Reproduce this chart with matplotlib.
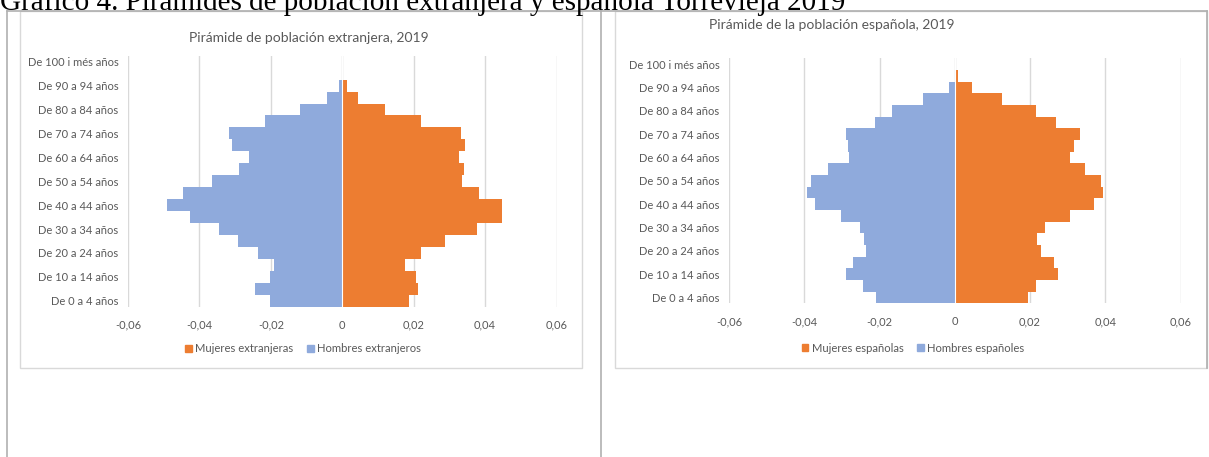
import matplotlib
matplotlib.use("Agg")
import matplotlib.pyplot as plt
from matplotlib.patches import Patch, Rectangle
from matplotlib.lines import Line2D

## age groups, bottom (0-4) to top (100+)
grupos = ["De 0 a 4 años", "De 5 a 9 años", "De 10 a 14 años", "De 15 a 19 años",
          "De 20 a 24 años", "De 25 a 29 años", "De 30 a 34 años", "De 35 a 39 años",
          "De 40 a 44 años", "De 45 a 49 años", "De 50 a 54 años", "De 55 a 59 años",
          "De 60 a 64 años", "De 65 a 69 años", "De 70 a 74 años", "De 75 a 79 años",
          "De 80 a 84 años", "De 85 a 89 años", "De 90 a 94 años", "De 95 a 99 años",
          "De 100 i més años"]

## population shares (men plotted as negative)
hombres_ext = [0.0202, 0.0245, 0.0202, 0.0192, 0.0237, 0.0293, 0.0344, 0.0426,
               0.0491, 0.0446, 0.0364, 0.0289, 0.0262, 0.0308, 0.0316, 0.0215,
               0.0118, 0.0043, 0.0010, 0.0, 0.0]
mujeres_ext = [0.0188, 0.0212, 0.0206, 0.0175, 0.0220, 0.0287, 0.0376, 0.0448,
               0.0448, 0.0383, 0.0335, 0.0342, 0.0328, 0.0344, 0.0333, 0.0220,
               0.0120, 0.0045, 0.0014, 0.0, 0.0]
hombres_esp = [0.0208, 0.0243, 0.0289, 0.0271, 0.0237, 0.0242, 0.0252, 0.0302,
               0.0372, 0.0392, 0.0381, 0.0337, 0.0281, 0.0283, 0.0288, 0.0211,
               0.0166, 0.0084, 0.0016, 0.0, 0.0]
mujeres_esp = [0.0195, 0.0215, 0.0275, 0.0264, 0.0228, 0.0218, 0.0240, 0.0305,
               0.0369, 0.0393, 0.0389, 0.0346, 0.0305, 0.0316, 0.0333, 0.0270,
               0.0217, 0.0125, 0.0047, 0.0009, 0.0003]

xticks = [-0.06, -0.04, -0.02, 0, 0.02, 0.04, 0.06]

NARANJA = "#ED7D31"
AZUL = "#8FAADC"
GRIS = "#595959"
W, H = 1209, 457

def fx(x):
    return x / W

def fy(y):
    return 1 - y / H

fig = plt.figure(figsize=(W / 100, H / 100), dpi=100)
plt.rcParams["font.family"] = ["Lato", "DejaVu Sans"]

## page / table lines
lc = "#B0B0B0"
fig.add_artist(Line2D([fx(7), fx(1207)], [fy(11), fy(11)], color=lc, lw=1.2, transform=fig.transFigure))
fig.add_artist(Line2D([fx(7), fx(7)], [fy(11), 0], color=lc, lw=1.2, transform=fig.transFigure))
fig.add_artist(Line2D([fx(601), fx(601)], [fy(11), 0], color=lc, lw=1.2, transform=fig.transFigure))
fig.add_artist(Line2D([fx(1207), fx(1207)], [fy(11), fy(368)], color=lc, lw=1.2, transform=fig.transFigure))

## chart frames
for x0, x1 in [(20, 582), (615, 1207)]:
    fig.add_artist(Rectangle((fx(x0), fy(368)), fx(x1 - x0), (368 - 11) / H,
                             fill=False, edgecolor="#D9D9D9", lw=1, transform=fig.transFigure))

fig.text(0, fy(10), "Gráfico 4. Pirámides de población extranjera y española Torrevieja 2019",
         family="Liberation Serif", fontsize=21, va="baseline", ha="left", color="black")

def piramide(rect, hombres, mujeres, titulo, title_xy, leg_labels, leg_xy):
    x0, y0, x1, y1 = rect
    ax = fig.add_axes([fx(x0), fy(y1), fx(x1 - x0), (y1 - y0) / H])
    pos = list(range(len(grupos)))
    ax.barh(pos, [-v for v in hombres], height=1.0, color=AZUL, zorder=2)
    ax.barh(pos, mujeres, height=1.0, color=NARANJA, zorder=2)
    ax.axvline(0, color="white", lw=0.8, zorder=3)
    ax.set_xlim(-0.06, 0.06)
    ax.set_ylim(-0.5, len(grupos) - 0.5)
    ax.set_xticks(xticks)
    ax.set_xticklabels(["0" if v == 0 else f"{v:.2f}".replace(".", ",") for v in xticks])
    ax.set_yticks(pos[::2])
    ax.set_yticklabels(grupos[::2])
    ax.tick_params(length=0, labelsize=8, colors=GRIS)
    ax.tick_params(axis="x", pad=9.5)
    ax.tick_params(axis="y", pad=7)
    for s in ax.spines.values():
        s.set_visible(False)
    ax.grid(axis="x", color="#D9D9D9", lw=1, zorder=0)
    ax.set_axisbelow(True)
    fig.text(fx(title_xy[0]), fy(title_xy[1]), titulo, ha="center", va="center",
             fontsize=10, color=GRIS)
    handles = [Patch(color=NARANJA), Patch(color=AZUL)]
    fig.legend(handles, leg_labels, loc="center", bbox_to_anchor=(fx(leg_xy[0]), fy(leg_xy[1])),
               ncol=2, frameon=False, fontsize=8.1, labelcolor=GRIS,
               handlelength=0.6, handleheight=0.6, handletextpad=0.3, columnspacing=1.2)
    return ax

piramide((128, 55.7, 556.5, 306.7), hombres_ext, mujeres_ext,
         "Pirámide de población extranjera, 2019", (309, 38),
         ["Mujeres extranjeras", "Hombres extranjeros"], (303, 349))
piramide((729, 58.3, 1180.5, 303.3), hombres_esp, mujeres_esp,
         "Pirámide de la población española, 2019", (832, 25),
         ["Mujeres españolas", "Hombres españoles"], (913, 348))

fig.savefig("out.png", dpi=100)
